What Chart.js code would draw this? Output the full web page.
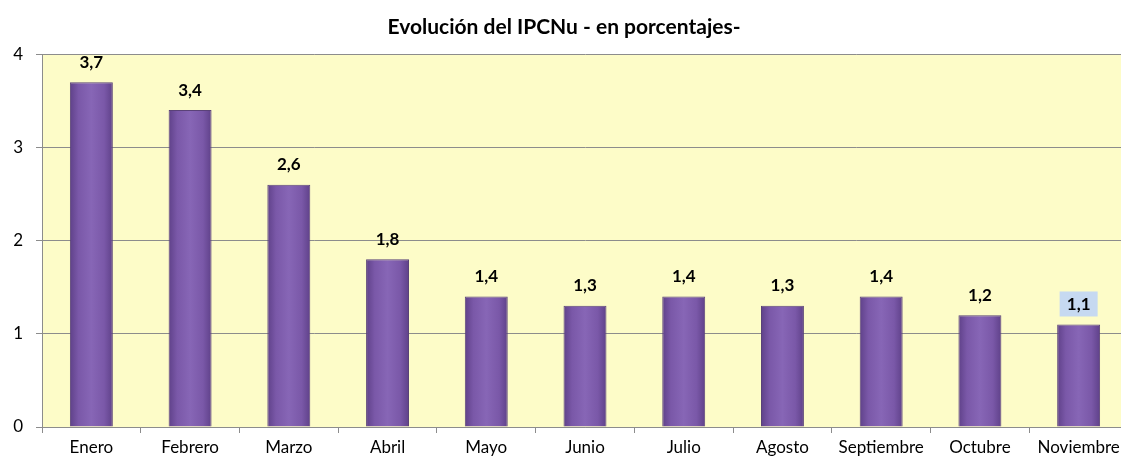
<!DOCTYPE html>
<html>
<head>
<meta charset="utf-8">
<script src="https://cdn.jsdelivr.net/npm/chart.js@4/dist/chart.umd.min.js"></script>
<style>
  html, body { margin: 0; padding: 0; background: #fff; overflow: hidden; }
  #wrap { width: 1128px; height: 456px; }
</style>
</head>
<body>
<div id="wrap"><canvas id="c" width="1128" height="456"></canvas></div>
<script>
const months = ['Enero', 'Febrero', 'Marzo', 'Abril', 'Mayo', 'Junio', 'Julio', 'Agosto', 'Septiembre', 'Octubre', 'Noviembre']
const ipcnu = [3.7, 3.4, 2.6, 1.8, 1.4, 1.3, 1.4, 1.3, 1.4, 1.2, 1.1]
const yTicks = [0, 1, 2, 3, 4]
const highlightLast = true

const fontFam = 'Lato, "Open Sans", "Liberation Sans", sans-serif'
const barPct = 0.435

// pale yellow plot background
const plotBg = {
    id: 'plotBg',
    beforeDraw(chart){
        const a = chart.chartArea
        const ctx = chart.ctx
        ctx.save()
        ctx.fillStyle = '#fdfcc8'
        ctx.fillRect(a.left, a.top, a.right - a.left, a.bottom - a.top)
        ctx.restore()
    }
}

// value labels above bars, comma decimals
const valueLabels = {
    id: 'valueLabels',
    afterDatasetsDraw(chart){
        const ctx = chart.ctx
        const meta = chart.getDatasetMeta(0)
        ctx.save()
        ctx.font = 'bold 17px ' + fontFam
        ctx.textAlign = 'center'
        ctx.textBaseline = 'middle'
        meta.data.forEach((bar, i) => {
            const txt = ipcnu[i].toFixed(1).replace('.', ',')
            const y = bar.y - 20
            if (highlightLast && i == ipcnu.length - 1){
                ctx.fillStyle = '#c6d9f1'
                ctx.fillRect(bar.x - 19, y - 13, 38, 25)
            }
            ctx.fillStyle = '#000'
            ctx.fillText(txt, bar.x, y)
        })
        ctx.restore()
    }
}

// horizontal shading, darker at the bar edges
const barFill = c => {
    const chart = c.chart
    const area = chart.chartArea
    if (!area || c.type != 'data') return '#7e5bab'
    const xs = chart.scales.x
    const x = xs.getPixelForValue(c.dataIndex)
    const half = xs.width / months.length * barPct / 2
    if (!Number.isFinite(x) || !Number.isFinite(half)) return '#7e5bab'
    const g = chart.ctx.createLinearGradient(x - half, 0, x + half, 0)
    g.addColorStop(0, '#5f4189')
    g.addColorStop(0.2, '#7a58a8')
    g.addColorStop(0.5, '#8766b6')
    g.addColorStop(0.8, '#7a58a8')
    g.addColorStop(1, '#5f4189')
    return g
}

new Chart(document.getElementById('c'), {
    type: 'bar',
    data: {
        labels: months,
        datasets: [{
            data: ipcnu,
            backgroundColor: barFill,
            borderColor: '#5a4278',
            borderWidth: 1,
            categoryPercentage: 1,
            barPercentage: barPct
        }]
    },
    options: {
        responsive: false,
        animation: false,
        layout: { padding: 0 },
        plugins: {
            legend: { display: false },
            tooltip: { enabled: false },
            title: {
                display: true,
                text: 'Evolución del IPCNu - en porcentajes-',
                color: '#000',
                font: { family: fontFam, size: 21, weight: 'bold' },
                padding: { top: 15, bottom: 14 }
            }
        },
        scales: {
            x: {
                grid: { offset: true, drawOnChartArea: false, color: '#8c8c8c', tickLength: 6 },
                border: { color: '#8c8c8c' },
                ticks: { color: '#000', font: { family: fontFam, size: 17 }, padding: 4, maxRotation: 0, autoSkip: false },
                afterFit: s => { s.height = 29 }
            },
            y: {
                min: 0,
                max: 4,
                afterBuildTicks: s => { s.ticks = yTicks.map(v => ({ value: v })) },
                grid: { color: '#8c8c8c', tickLength: 6 },
                border: { color: '#8c8c8c' },
                ticks: { color: '#000', font: { family: fontFam, size: 17 }, padding: 13 },
                afterFit: s => { s.width = 42 }
            }
        }
    },
    plugins: [plotBg, valueLabels]
})
</script>
</body>
</html>
